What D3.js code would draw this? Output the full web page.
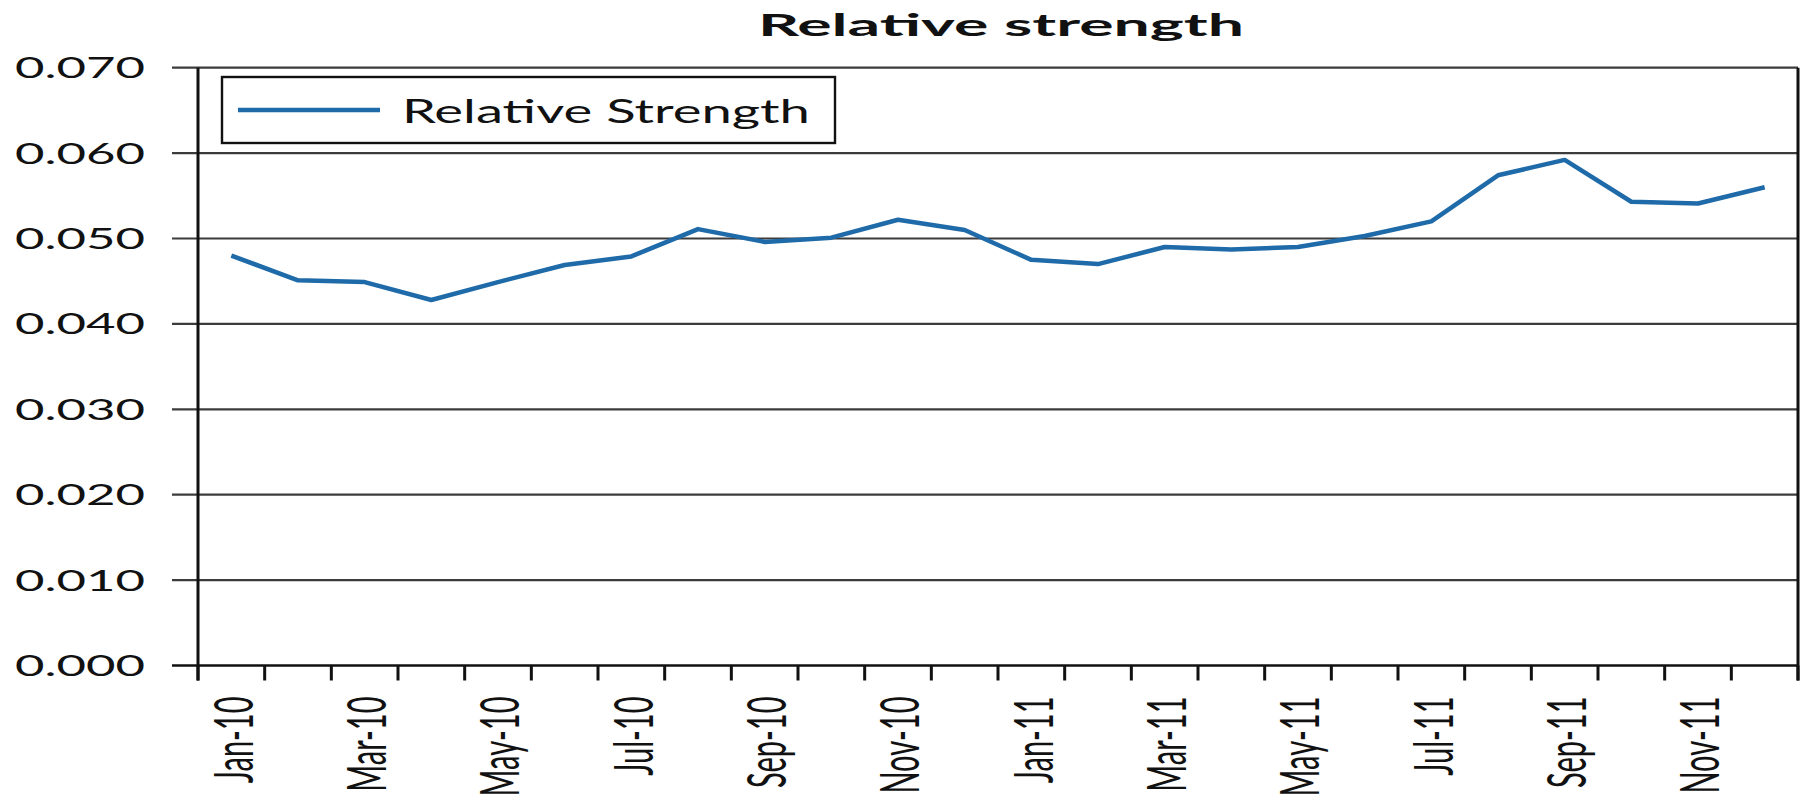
<!DOCTYPE html>
<html>
<head>
<meta charset="utf-8">
<script src="https://cdn.jsdelivr.net/npm/d3@7"></script>
<style>
  html, body { margin: 0; padding: 0; background: #fff; }
  svg { display: block; }
  text { font-family: Lato, "Open Sans", sans-serif; fill: #111; }
</style>
</head>
<body>
<svg id="chart" width="1804" height="804"></svg>
<script>
// Monthly relative strength, Jan 2010 – Dec 2011
const months = ["Jan-10","Feb-10","Mar-10","Apr-10","May-10","Jun-10","Jul-10","Aug-10","Sep-10","Oct-10","Nov-10","Dec-10",
                "Jan-11","Feb-11","Mar-11","Apr-11","May-11","Jun-11","Jul-11","Aug-11","Sep-11","Oct-11","Nov-11","Dec-11"];
const strength = [0.0480, 0.0451, 0.0449, 0.0428, 0.0449, 0.0469, 0.0479, 0.0511, 0.0496, 0.0501, 0.0522, 0.0510,
                  0.0475, 0.0470, 0.0490, 0.0487, 0.0490, 0.0503, 0.0520, 0.0574, 0.0592, 0.0543, 0.0541, 0.0560];
const labelMonths = ["Jan-10","Mar-10","May-10","Jul-10","Sep-10","Nov-10","Jan-11","Mar-11","May-11","Jul-11","Sep-11","Nov-11"];
const yTicks = [0, 0.01, 0.02, 0.03, 0.04, 0.05, 0.06, 0.07];
const seriesName = "Relative Strength";
const titleText = "Relative strength";

const svg = d3.select("#chart");
const plotLeft = 198, plotRight = 1798, plotTop = 67.7, plotBottom = 665.5;
const sx = 1.85;           // horizontal glyph stretch for the rotated month labels
const tickOut = 26, tickDown = 15;
const lineColor = "#1f6aa8";

const x = d3.scaleBand().domain(months).range([plotLeft, plotRight]).padding(0);
const y = d3.scaleLinear().domain([0, 0.07]).range([plotBottom, plotTop]);
const bw = x.bandwidth();

// horizontal gridlines with outward ticks
svg.append("g").selectAll("line").data(yTicks).join("line")
  .attr("x1", plotLeft - tickOut).attr("x2", plotRight)
  .attr("y1", d => y(d)).attr("y2", d => y(d))
  .attr("stroke", d => d === 0 ? "#111" : "#3c3c3c")
  .attr("stroke-width", d => d === 0 ? 2.6 : 2.2);

// y tick labels
svg.append("g").selectAll("text").data(yTicks).join("text")
  .attr("x", 15).attr("y", d => y(d) + 10.5)
  .attr("font-size", 29)
  .attr("textLength", 130).attr("lengthAdjust", "spacingAndGlyphs")
  .text(d => d3.format(".3f")(d));

// left axis and right border
svg.append("line").attr("x1", plotLeft).attr("x2", plotLeft).attr("y1", plotTop).attr("y2", plotBottom + tickDown)
  .attr("stroke", "#111").attr("stroke-width", 3);
svg.append("line").attr("x1", plotRight).attr("x2", plotRight).attr("y1", plotTop).attr("y2", plotBottom + tickDown)
  .attr("stroke", "#111").attr("stroke-width", 3);

// category boundary ticks
const bounds = months.map(m => x(m)).concat([x.range()[1]]);
svg.append("g").selectAll("line").data(bounds).join("line")
  .attr("x1", d => d).attr("x2", d => d)
  .attr("y1", plotBottom).attr("y2", plotBottom + tickDown)
  .attr("stroke", "#111").attr("stroke-width", 3);

// rotated month labels
svg.append("g").selectAll("text").data(labelMonths).join("text")
  .attr("transform", d => `translate(${x(d) + bw / 2},${plotBottom + 31}) scale(${sx},1) rotate(-90)`)
  .attr("text-anchor", "end")
  .attr("x", 0).attr("y", 11.5)
  .attr("font-size", 29)
  .text(d => d);

// series line
const line = d3.line()
  .x((d, i) => x(months[i]) + bw / 2)
  .y(d => y(d));
svg.append("path").datum(strength)
  .attr("d", line)
  .attr("fill", "none")
  .attr("stroke", lineColor)
  .attr("stroke-width", 4.5)
  .attr("stroke-linejoin", "round");

// legend
const lg = svg.append("g");
lg.append("rect").attr("x", 222).attr("y", 77).attr("width", 613).attr("height", 66)
  .attr("fill", "#fff").attr("stroke", "#111").attr("stroke-width", 2.4);
lg.append("line").attr("x1", 238).attr("x2", 380).attr("y1", 110).attr("y2", 110)
  .attr("stroke", lineColor).attr("stroke-width", 4.5);
lg.append("text").attr("x", 402).attr("y", 122.5)
  .attr("font-size", 33)
  .attr("textLength", 408).attr("lengthAdjust", "spacingAndGlyphs")
  .text(seriesName);

// title
svg.append("text").attr("x", 758).attr("y", 36)
  .attr("font-size", 31).attr("font-weight", "bold")
  .attr("textLength", 486).attr("lengthAdjust", "spacingAndGlyphs")
  .text(titleText);
</script>
</body>
</html>
